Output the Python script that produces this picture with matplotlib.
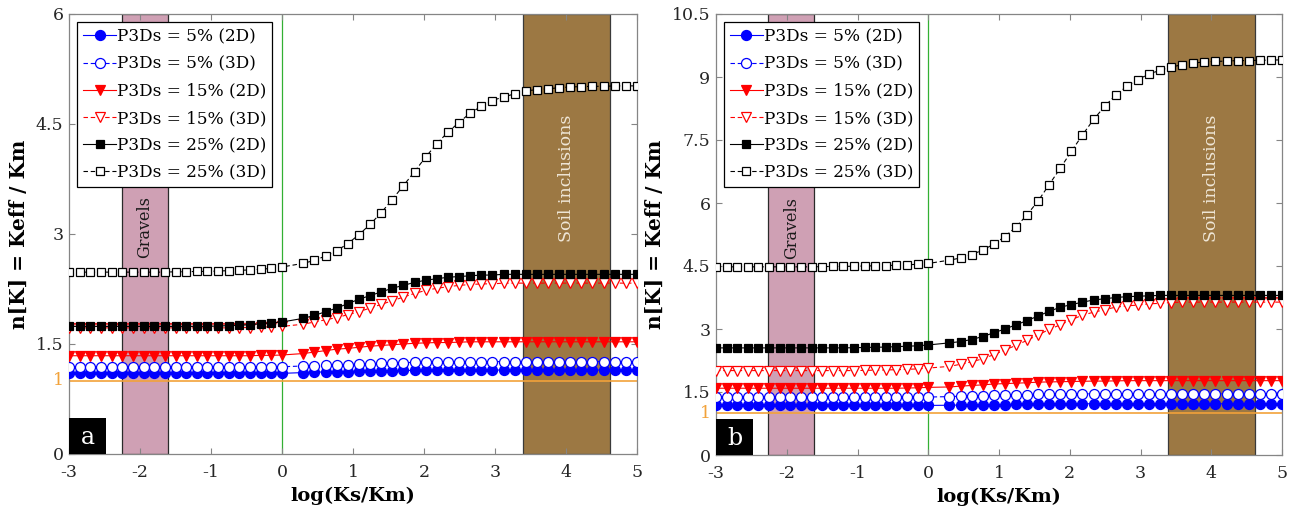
import matplotlib
matplotlib.use('Agg')
import matplotlib.pyplot as plt
import matplotlib.transforms as mtransforms
from matplotlib.patches import Rectangle

plt.rcParams['font.family'] = ['DejaVu Serif']
plt.rcParams['axes.unicode_minus'] = False

# ---------------- data ----------------
x_left = [-3.0, -2.85, -2.7, -2.55, -2.4, -2.25, -2.1, -1.95, -1.8, -1.65, -1.5,
          -1.35, -1.2, -1.05, -0.9, -0.75, -0.6, -0.45, -0.3, -0.15, 0.0]
x_right = [0.3, 0.457, 0.613, 0.77, 0.927, 1.083, 1.24, 1.397, 1.553, 1.71, 1.867,
           2.023, 2.18, 2.337, 2.493, 2.65, 2.807, 2.963, 3.12, 3.277, 3.433, 3.59,
           3.747, 3.903, 4.06, 4.217, 4.373, 4.53, 4.687, 4.843, 5.0]
x_vals = x_left + x_right

series_labels = ['P3Ds = 5% (2D)', 'P3Ds = 5% (3D)', 'P3Ds = 15% (2D)',
                 'P3Ds = 15% (3D)', 'P3Ds = 25% (2D)', 'P3Ds = 25% (3D)']

# panel a
a_5_2d = [1.10] * 21 + [1.11, 1.115, 1.12, 1.12, 1.125, 1.13, 1.13, 1.135, 1.135, 1.14, 1.14, 1.14] + [1.145] * 19
a_5_3d = [1.19] * 21 + [1.20, 1.205, 1.21, 1.215, 1.22, 1.225, 1.23, 1.235, 1.24, 1.245, 1.25, 1.25, 1.255, 1.255] + [1.26] * 17
a_15_2d = [1.34] * 18 + [1.345, 1.345, 1.35] + [1.37, 1.39, 1.41, 1.43, 1.44, 1.455, 1.47, 1.48, 1.49, 1.50,
                                               1.51, 1.515, 1.52, 1.52, 1.525] + [1.53] * 16
a_15_3d = [1.72] * 16 + [1.725, 1.725, 1.73, 1.735, 1.74] + [1.77, 1.80, 1.83, 1.86, 1.90, 1.94, 1.99, 2.04, 2.09,
                                                             2.14, 2.19, 2.23, 2.26, 2.28, 2.30, 2.31, 2.32, 2.32,
                                                             2.33] + [2.33] * 12
a_25_2d = [1.74] * 14 + [1.745, 1.75, 1.755, 1.765, 1.775, 1.79, 1.80] + [1.85, 1.89, 1.94, 1.99, 2.05, 2.11, 2.16,
                                                                          2.21, 2.26, 2.30, 2.34, 2.37, 2.39, 2.41,
                                                                          2.42, 2.43, 2.44, 2.44] + [2.45] * 13
a_25_3d = [2.48] * 10 + [2.485, 2.485, 2.49, 2.49, 2.495, 2.50, 2.505, 2.51, 2.52, 2.53, 2.55] + \
          [2.60, 2.64, 2.70, 2.77, 2.87, 2.99, 3.13, 3.29, 3.47, 3.66, 3.85, 4.05, 4.23, 4.39, 4.52, 4.65,
           4.74, 4.82, 4.87, 4.91, 4.95, 4.97, 4.98, 4.995, 5.005, 5.01, 5.014, 5.014, 5.02, 5.02, 5.02]

# panel b
b_5_2d = [1.18] * 21 + [1.185, 1.19, 1.19, 1.195, 1.20, 1.20, 1.205, 1.21, 1.21, 1.21, 1.215] + [1.22] * 20
b_5_3d = [1.38] * 21 + [1.39, 1.40, 1.41, 1.415, 1.42, 1.43, 1.435, 1.44, 1.445, 1.45, 1.45, 1.455, 1.455] + [1.46] * 18
b_15_2d = [1.59] * 18 + [1.595, 1.60, 1.61] + [1.62, 1.64, 1.655, 1.67, 1.69, 1.70, 1.71, 1.72, 1.735, 1.74, 1.745,
                                               1.75, 1.755, 1.76, 1.76, 1.765] + [1.77] * 15
b_15_3d = [2.01] * 14 + [2.015, 2.02, 2.025, 2.03, 2.04, 2.05, 2.07] + \
          [2.11, 2.16, 2.22, 2.29, 2.39, 2.50, 2.61, 2.73, 2.86, 2.99, 3.10, 3.22, 3.33, 3.40, 3.46, 3.52,
           3.55, 3.57, 3.60, 3.61, 3.63] + [3.64] * 10
b_25_2d = [2.55] * 13 + [2.555, 2.56, 2.565, 2.57, 2.58, 2.59, 2.60, 2.62] + \
          [2.67, 2.70, 2.75, 2.82, 2.91, 3.00, 3.10, 3.20, 3.31, 3.42, 3.52, 3.58, 3.64, 3.69, 3.72, 3.75,
           3.77, 3.78, 3.79] + [3.80] * 12
b_25_3d = [4.48] * 10 + [4.485, 4.49, 4.49, 4.495, 4.50, 4.505, 4.51, 4.52, 4.53, 4.54, 4.56] + \
          [4.64, 4.69, 4.77, 4.88, 5.02, 5.20, 5.43, 5.72, 6.05, 6.44, 6.83, 7.23, 7.62, 7.99, 8.30, 8.57,
           8.78, 8.94, 9.07, 9.16, 9.24, 9.29, 9.33, 9.36, 9.37, 9.38, 9.39, 9.39, 9.40, 9.40, 9.41]

panel_a_series = [a_5_2d, a_5_3d, a_15_2d, a_15_3d, a_25_2d, a_25_3d]
panel_b_series = [b_5_2d, b_5_3d, b_15_2d, b_15_3d, b_25_2d, b_25_3d]

x_ticks = [-3, -2, -1, 0, 1, 2, 3, 4, 5]
a_yticks = [0, 1.5, 3, 4.5, 6]
b_yticks = [0, 1.5, 3, 4.5, 6, 7.5, 9, 10.5]
gravel_band = (-2.26, -1.61)
soil_band = (3.39, 4.62)

# ---------------- styles ----------------
styles = [
    dict(marker='o', color='#0000FF', mfc='#0000FF', ls='-', ms=7.2),
    dict(marker='o', color='#0000FF', mfc='white', ls=(0, (4, 2.5)), ms=7.2),
    dict(marker='v', color='#FF0000', mfc='#FF0000', ls='-', ms=7.0),
    dict(marker='v', color='#FF0000', mfc='white', ls=(0, (4, 2.5)), ms=7.0),
    dict(marker='s', color='black', mfc='black', ls='-', ms=5.4),
    dict(marker='s', color='black', mfc='white', ls=(0, (4, 2.5)), ms=5.4),
]

fig = plt.figure(figsize=(12.93, 5.17), dpi=100)
ax_a = fig.add_axes([69 / 1293, 63 / 517, 568 / 1293, 440 / 517])
ax_b = fig.add_axes([716 / 1293, 62 / 517, 566 / 1293, 441 / 517])

spine_col = '#858585'
text_col = '#262626'


def draw_panel(ax, series, yticks, ymax, letter):
    ax.axvspan(*gravel_band, facecolor='#CFA0B4', edgecolor='#2a2a2a', lw=0.9, zorder=0.5)
    ax.axvspan(*soil_band, facecolor='#9C7843', edgecolor='#3a3a3a', lw=0.9, zorder=0.5)
    ax.axvline(0, color='#33B033', lw=0.9, zorder=0.8)
    ax.axhline(1, color='#F2A23A', lw=1.2, zorder=0.8)
    for yv, st, lab in zip(series, styles, series_labels):
        ax.plot(x_vals, yv, marker=st['marker'], color=st['color'], mfc=st['mfc'],
                mec=st['color'], ms=st['ms'], mew=0.9, ls=st['ls'], lw=0.8, label=lab, zorder=3)
    ax.set_xlim(-3, 5)
    ax.set_ylim(0, ymax)
    ax.set_xticks(x_ticks)
    ax.set_xticklabels([str(t) for t in x_ticks])
    ax.set_yticks(yticks)
    ax.set_yticklabels([('%g' % t) for t in yticks])
    ax.tick_params(direction='in', top=True, right=True, length=4, width=0.8,
                   color=spine_col, labelcolor=text_col, labelsize=12.5)
    ax.tick_params(axis='x', pad=7)
    ax.tick_params(axis='y', pad=4)
    for sp in ax.spines.values():
        sp.set_color(spine_col)
        sp.set_linewidth(0.9)
    trans = mtransforms.blended_transform_factory(ax.transAxes, ax.transData)
    ax.text(-0.009, 1.0, '1', transform=trans, ha='right', va='center',
            color='#F2A23A', fontsize=12.5)
    bt = mtransforms.blended_transform_factory(ax.transData, ax.transAxes)
    ax.text(sum(gravel_band) / 2, 0.515, 'Gravels', transform=bt,
            rotation=90, ha='center', va='center', color='#1a1a1a', fontsize=11.5)
    ax.text(sum(soil_band) / 2, 0.627, 'Soil inclusions', transform=bt,
            rotation=90, ha='center', va='center', color='#EFE6D6', fontsize=12.5)
    ax.add_patch(Rectangle((0, 0), 0.065, 0.082, transform=ax.transAxes, facecolor='black',
                           edgecolor='none', zorder=6, clip_on=False))
    ax.text(0.0325, 0.038, letter, transform=ax.transAxes, ha='center', va='center',
            color='white', fontsize=17, zorder=7)
    ax.set_xlabel('log(Ks/Km)', fontsize=14, fontweight='bold', color='black', labelpad=4)
    ax.set_ylabel('n[K] = Keff / Km', fontsize=14.5, fontweight='bold', color='black', labelpad=5)
    leg = ax.legend(loc='upper left', fontsize=12.2, frameon=True, fancybox=False,
                    edgecolor='black', framealpha=1, handlelength=1.9, handletextpad=0.08,
                    labelspacing=0.6, borderpad=0.35, borderaxespad=0.5)
    leg.get_frame().set_linewidth(0.9)
    leg.set_zorder(10)


draw_panel(ax_a, panel_a_series, a_yticks, 6, 'a')
draw_panel(ax_b, panel_b_series, b_yticks, 10.5, 'b')

fig.savefig('out.png', dpi=100)
